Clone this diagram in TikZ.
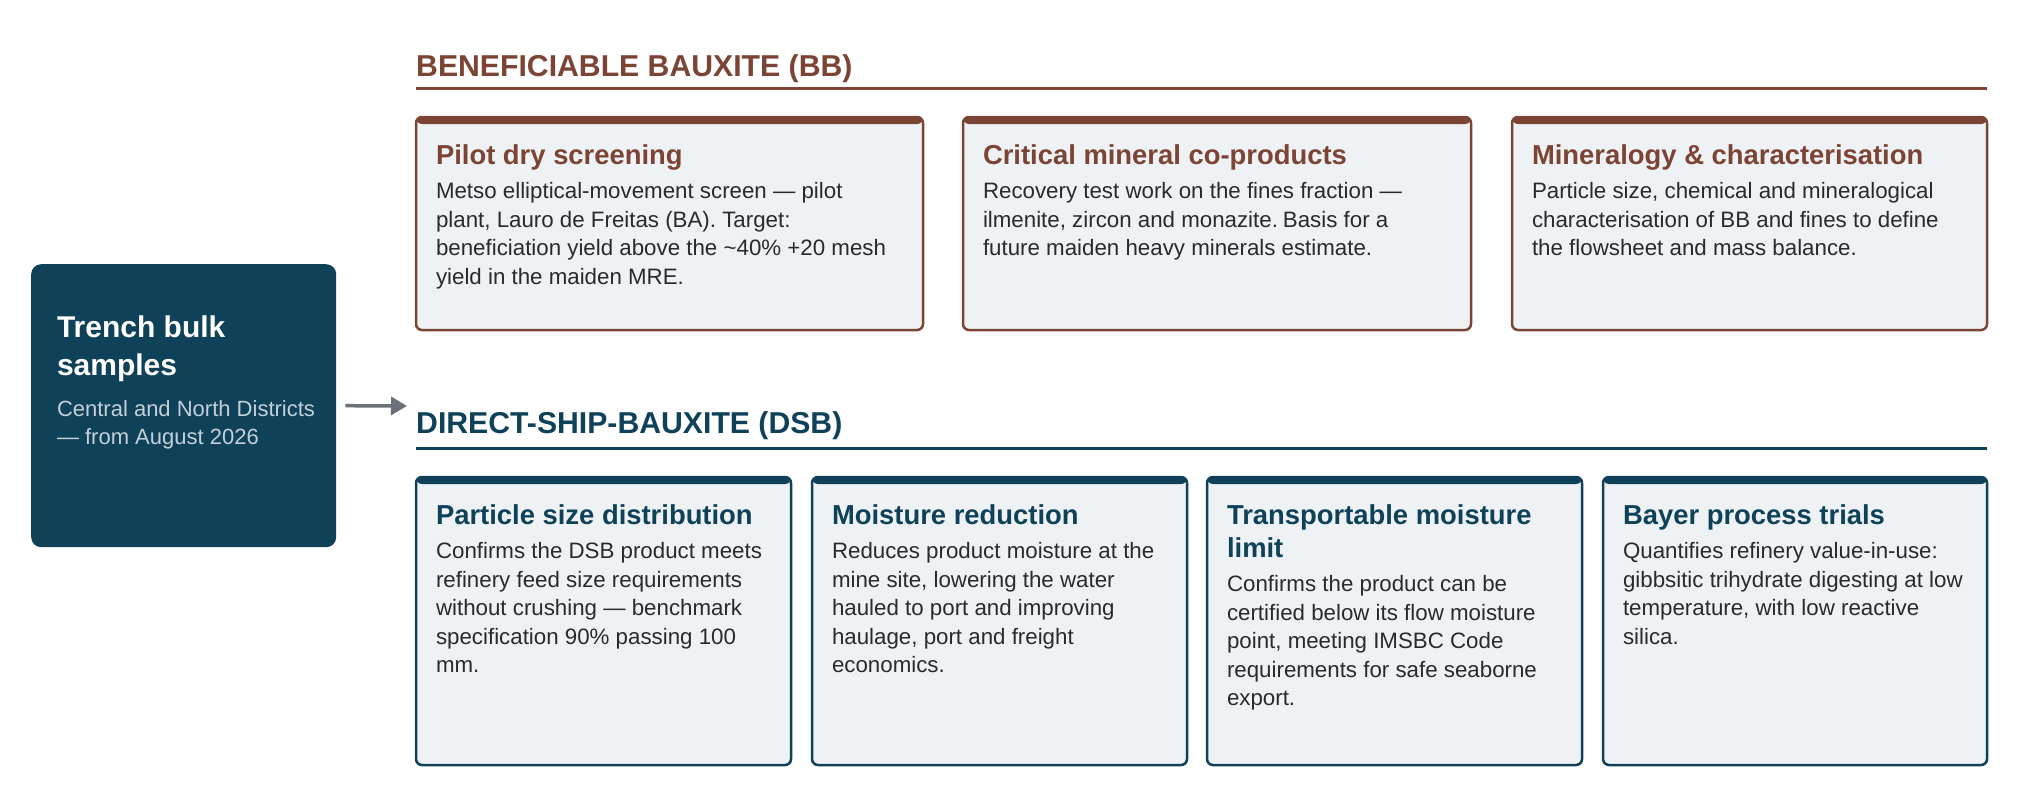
\documentclass[tikz,border=0pt]{standalone}
\usepackage{fontspec}
\setmainfont{Liberation Sans}
\usetikzlibrary{arrows.meta}
\definecolor{navy}{HTML}{0F4159}
\definecolor{rust}{HTML}{7B4434}
\definecolor{cardbg}{HTML}{EEF2F5}
\definecolor{bodytxt}{HTML}{2A2A2A}
\definecolor{subtxt}{HTML}{C3D0D9}
\definecolor{arrgray}{HTML}{6B7178}
\newcommand\fixsp{\spaceskip=0.278em plus 0.139em minus 0.05em\relax}
\newcommand\cardbody[3]{{\fontsize{27.4}{33}\selectfont\bfseries\fixsp\color{#1}#2\par}\vspace{6pt}{\fontsize{22.3}{28.5}\selectfont\fixsp\color{bodytxt}#3\par}}
\begin{document}
\begin{tikzpicture}[x=1pt,y=-1pt,
  card/.style={rectangle, anchor=north west, inner sep=0pt, outer sep=0pt,
    rounded corners=6pt, line width=2.5pt, draw=#1, fill=cardbg,
    path picture={\fill[#1] ([yshift=3pt]path picture bounding box.north west) rectangle ([yshift=-7pt]path picture bounding box.north east);}},
  ctext/.style={anchor=base west, inner sep=0pt, outer sep=0pt, align=left, text width=#1},
  header/.style={anchor=base west, inner sep=0pt, font=\fontsize{30.2}{35}\selectfont\bfseries\fixsp, text=#1},
  rule/.style={draw=#1, line width=3pt},
  arr/.style={draw=arrgray, line width=3.5pt, -{Triangle[length=16pt,width=18pt]}}
]
\useasboundingbox (0,0) rectangle (2028,811);

% source box
\node[rectangle, anchor=north west, inner sep=0pt, fill=navy, rounded corners=10pt,
  minimum width=305pt, minimum height=283pt] (src) at (31,264) {};
\node[ctext=270pt] (srct) at ([xshift=26pt,yshift=-73pt]src.north west)
  {{\fontsize{30}{38}\selectfont\bfseries\fixsp\color{white}Trench bulk\\samples\par}\vspace{13pt}{\fontsize{22}{28}\selectfont\fixsp\color{subtxt}Central and North Districts\\— from August 2026\par}};

% arrow
\coordinate (aend) at (407,406);
\draw[arr] ([xshift=9pt]src.east) -- (aend);

% BB header
\node[header=rust] (bbh) at (416,76) {BENEFICIABLE BAUXITE (BB)};
\coordinate (bbrl) at (416,88.5);
\coordinate (bbrr) at (1987,88.5);
\draw[rule=rust] (bbrl) -- (bbrr);

% BB cards
\node[card=rust, minimum width=507pt, minimum height=213pt] (bb1) at (416,117) {};
\node[card=rust, minimum width=508pt, minimum height=213pt] (bb2) at (963,117) {};
\node[card=rust, minimum width=475pt, minimum height=213pt] (bb3) at (1512,117) {};

\node[ctext=480pt] (bb1t) at ([xshift=20pt,yshift=-47pt]bb1.north west)
  {\cardbody{rust}{Pilot dry screening}{Metso elliptical-movement screen — pilot\\plant, Lauro de Freitas (BA). Target:\\beneficiation yield above the \textasciitilde40\% +20 mesh\\yield in the maiden MRE.}};
\node[ctext=480pt] (bb2t) at ([xshift=20pt,yshift=-47pt]bb2.north west)
  {\cardbody{rust}{Critical mineral co-products}{Recovery test work on the fines fraction —\\ilmenite, zircon and monazite. Basis for a\\future maiden heavy minerals estimate.}};
\node[ctext=450pt] (bb3t) at ([xshift=20pt,yshift=-47pt]bb3.north west)
  {\cardbody{rust}{Mineralogy \& characterisation}{Particle size, chemical and mineralogical\\characterisation of BB and fines to define\\the flowsheet and mass balance.}};

% DSB header
\node[header=navy] (dsbh) at (416,433) {DIRECT-SHIP-BAUXITE (DSB)};
\coordinate (dsbrl) at (416,448);
\coordinate (dsbrr) at (1987,448);
\draw[rule=navy] (dsbrl) -- (dsbrr);

% DSB cards
\node[card=navy, minimum width=375pt, minimum height=288pt] (d1) at (416,477) {};
\node[card=navy, minimum width=375pt, minimum height=288pt] (d2) at (812,477) {};
\node[card=navy, minimum width=375pt, minimum height=288pt] (d3) at (1207,477) {};
\node[card=navy, minimum width=384pt, minimum height=288pt] (d4) at (1603,477) {};

\node[ctext=365pt] (d1t) at ([xshift=20pt,yshift=-47pt]d1.north west)
  {\cardbody{navy}{Particle size distribution}{Confirms the DSB product meets\\refinery feed size requirements\\without crushing — benchmark\\specification 90\% passing 100\\mm.}};
\node[ctext=365pt] (d2t) at ([xshift=20pt,yshift=-47pt]d2.north west)
  {\cardbody{navy}{Moisture reduction}{Reduces product moisture at the\\mine site, lowering the water\\hauled to port and improving\\haulage, port and freight\\economics.}};
\node[ctext=365pt] (d3t) at ([xshift=20pt,yshift=-47pt]d3.north west)
  {\cardbody{navy}{Transportable moisture\\limit}{Confirms the product can be\\certified below its flow moisture\\point, meeting IMSBC Code\\requirements for safe seaborne\\export.}};
\node[ctext=365pt] (d4t) at ([xshift=20pt,yshift=-47pt]d4.north west)
  {\cardbody{navy}{Bayer process trials}{Quantifies refinery value-in-use:\\gibbsitic trihydrate digesting at low\\temperature, with low reactive\\silica.}};
\end{tikzpicture}
\end{document}
